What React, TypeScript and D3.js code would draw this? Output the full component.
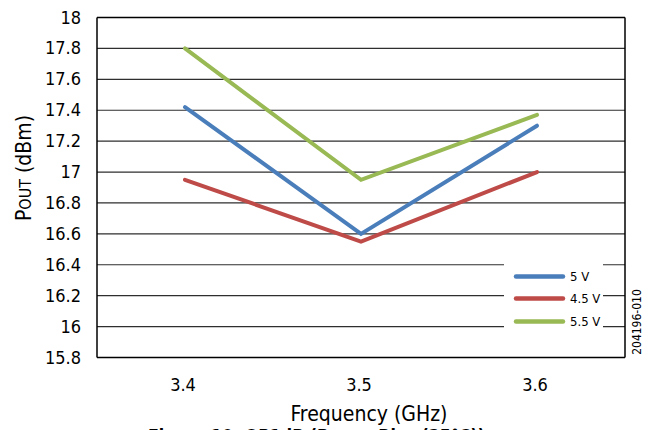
import React from "react";
import * as d3 from "d3";

const categories = ["3.4", "3.5", "3.6"];
const seriesNames = ["5 V", "4.5 V", "5.5 V"];
const series5V = [17.42, 16.6, 17.3];
const series45V = [16.95, 16.55, 17.0];
const series55V = [17.8, 16.95, 17.37];
const colors = ["#4A7EBB", "#BE4B48", "#98B954"];
const yTicks = [15.8, 16, 16.2, 16.4, 16.6, 16.8, 17, 17.2, 17.4, 17.6, 17.8, 18];

const FONT = "'Liberation Sans Narrow', 'DejaVu Sans Condensed', 'Arial Narrow', sans-serif";

export default function App() {
  const W = 649, H = 430;
  const left = 97, right = 625, top = 17.5, bottom = 357.5;
  const x = d3.scaleBand<string>().domain(categories).range([left, right]);
  const y = d3.scaleLinear().domain([15.8, 18]).range([bottom, top]);
  const cx = (c: string) => (x(c) as number) + x.bandwidth() / 2;
  const allSeries = [series5V, series45V, series55V];
  const line = d3.line<number>().x((_, i) => cx(categories[i])).y((v) => y(v));

  const legX = 516, legY = [276.5, 298.5, 321.5];

  return (
    <svg width={W} height={H} style={{ position: "absolute", left: 0, top: 0, background: "#fff" }}>
      <rect x={0} y={0} width={W} height={H} fill="#fff" />
      {yTicks.map((t) => (
        <line key={"g" + t} x1={left} x2={right} y1={y(t)} y2={y(t)} stroke="#2e2e2e" strokeWidth={1.2} />
      ))}
      {/* plot frame */}
      <line x1={left} x2={left} y1={top} y2={bottom} stroke="#000" strokeWidth={1.5} />
      <line x1={right} x2={right} y1={top} y2={bottom} stroke="#000" strokeWidth={1.5} />
      <line x1={left} x2={right} y1={top} y2={top} stroke="#000" strokeWidth={1.5} />
      <line x1={left} x2={right} y1={bottom} y2={bottom} stroke="#000" strokeWidth={1.5} />
      {yTicks.map((t) => (
        <text key={"t" + t} x={81} y={y(t) + 6} textAnchor="end" fontFamily={FONT} fontSize={18} fill="#000">
          {d3.format("")(t)}
        </text>
      ))}
      {categories.map((c) => (
        <text key={c} x={cx(c) - 2} y={391} textAnchor="middle" fontFamily={FONT} fontSize={18} fill="#000">
          {c}
        </text>
      ))}
      <text x={369} y={421} textAnchor="middle" fontFamily={FONT} fontSize={21} fill="#000">
        Frequency (GHz)
      </text>
      <text transform={`translate(31,168) rotate(-90)`} textAnchor="middle" fontFamily={FONT} fontSize={21} fill="#000">
        P<tspan fontSize={16}>OUT</tspan> (dBm)
      </text>
      {allSeries.map((s, i) => (
        <path key={"s" + i} d={line(s) as string} fill="none" stroke={colors[i]} strokeWidth={4} strokeLinecap="round" strokeLinejoin="miter" />
      ))}
      {/* legend */}
      <rect x={504} y={252} width={99} height={82} fill="#fff" />
      {seriesNames.map((n, i) => (
        <g key={n}>
          <line x1={legX} x2={legX + 47} y1={legY[i]} y2={legY[i]} stroke={colors[i]} strokeWidth={4.5} strokeLinecap="round" />
          <text x={570} y={legY[i] + 4.5} fontFamily={FONT} fontSize={13} fill="#000">
            {n}
          </text>
        </g>
      ))}
      <text transform={`translate(641,322) rotate(-90)`} textAnchor="middle" fontFamily={FONT} fontSize={12} fill="#000">
        204196-010
      </text>
      <text x={148} y={443} fontFamily={FONT} fontSize={20} fontWeight="bold" fill="#000" textLength={337} lengthAdjust="spacingAndGlyphs">
        Figure 10. OP1dB (Power Bias (25°C))
      </text>
    </svg>
  );
}
